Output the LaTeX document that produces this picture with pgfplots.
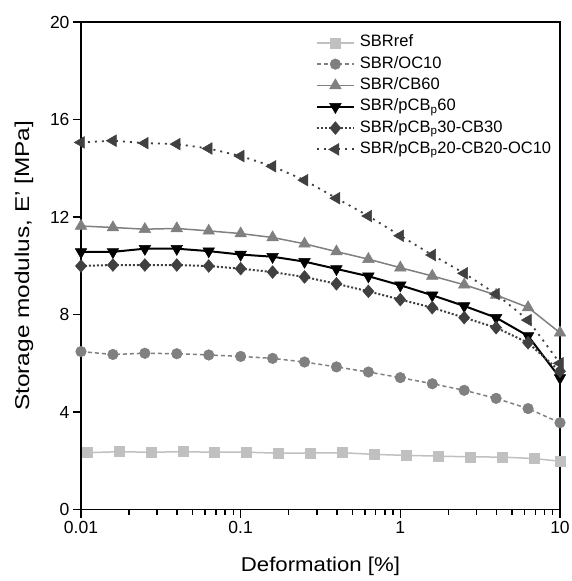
\documentclass[border=0pt]{standalone}
\usepackage{fontspec}
\setmainfont{Liberation Sans}
\usepackage{graphicx}
\usepackage{pgfplots}
\pgfplotsset{compat=1.18}
\definecolor{lg}{HTML}{C0C0C0}
\definecolor{mg}{HTML}{808080}
\definecolor{dg}{HTML}{404040}
\begin{document}
\begin{tikzpicture}
\path[use as bounding box] (-81pt,-71.5pt) rectangle (490pt,509.5pt);
\begin{axis}[
  at={(0pt,0pt)}, anchor=south west,
  scale only axis, width=479pt, height=487.5pt,
  xmode=log, xmin=0.01, xmax=10, ymin=0, ymax=20,
  xtick={0.01,0.1,1,10}, xticklabels={0.01,0.1,1,10},
  minor xtick={0.02,0.03,0.04,0.05,0.06,0.07,0.08,0.09,0.2,0.3,0.4,0.5,0.6,0.7,0.8,0.9,2,3,4,5,6,7,8,9},
  ytick={0,4,8,12,16,20},
  tick align=outside, xtick pos=bottom, ytick pos=left,
  major tick length=8pt, minor tick length=5pt,
  axis line style={line width=1.5pt},
  every tick/.style={line width=1.5pt, black},
  /pgf/number format/assume math mode=true,
  ticklabel style={font=\fontsize{17.5}{17.5}\selectfont},
  xlabel={\scalebox{1.11}[1]{Deformation [\%]}},
  ylabel={\scalebox{1.22}[1]{Storage modulus, E' [MPa]}},
  label style={font=\fontsize{20}{20}\selectfont},
  xlabel style={at={(axis description cs:0.5,-0.1159)}, anchor=center},
  ylabel style={at={(axis description cs:-0.119,0.5)}, anchor=center},
  legend style={draw=none, fill=none, at={(0.49,0.974)}, anchor=north west,
    font=\fontsize{16.5}{16.5}\selectfont, inner sep=0pt,
    nodes={inner sep=0pt, text height=12pt, text depth=4pt},
    row sep=5.3pt,
    /tikz/every odd column/.append style={column sep=5pt}},
  legend cell align=left,
  legend image code/.code={\draw[mark repeat=2,mark phase=2,#1] plot coordinates {(0pt,0pt) (18.5pt,0pt) (37pt,0pt)};},
]
\addplot[color=lg, line width=1.5pt, mark=square*, mark size=5pt, mark options={solid, line width=0.5pt}] coordinates {
(0.0109,2.33) (0.01728,2.37) (0.02738,2.35) (0.04339,2.37) (0.06878,2.35) (0.109,2.35) (0.1728,2.31) (0.2738,2.32) (0.4339,2.33) (0.6878,2.26) (1.09,2.22) (1.728,2.19) (2.738,2.16) (4.339,2.15) (6.878,2.09) (10,1.98)};
\addlegendentry{SBRref}
\addplot[color=mg, line width=1.5pt, dash pattern=on 4pt off 3pt, mark=*, mark size=5.3pt, mark options={solid, line width=0.5pt}] coordinates {
(0.01,6.48) (0.01585,6.36) (0.02512,6.41) (0.03981,6.39) (0.0631,6.34) (0.1,6.28) (0.1585,6.20) (0.2512,6.05) (0.3981,5.85) (0.631,5.64) (1,5.41) (1.585,5.16) (2.512,4.89) (3.981,4.56) (6.31,4.14) (10,3.56)};
\addlegendentry{SBR/OC10}
\addplot[color=mg, line width=1.5pt, mark=triangle*, mark size=6.7pt, mark options={solid, line width=0.5pt}] coordinates {
(0.01,11.63) (0.01585,11.57) (0.02512,11.50) (0.03981,11.53) (0.0631,11.43) (0.1,11.32) (0.1585,11.16) (0.2512,10.90) (0.3981,10.58) (0.631,10.27) (1,9.92) (1.585,9.58) (2.512,9.22) (3.981,8.80) (6.31,8.29) (10,7.25)};
\addlegendentry{SBR/CB60}
\addplot[color=black, line width=2pt, mark=triangle*, mark size=6.7pt, mark options={solid, line width=0.5pt, rotate=180}] coordinates {
(0.01,10.57) (0.01585,10.57) (0.02512,10.70) (0.03981,10.70) (0.0631,10.60) (0.1,10.46) (0.1585,10.37) (0.2512,10.17) (0.3981,9.87) (0.631,9.57) (1,9.20) (1.585,8.79) (2.512,8.35) (3.981,7.87) (6.31,7.12) (10,5.40)};
\addlegendentry{SBR/pCB\textsubscript{p}60}
\addplot[color=dg, line width=2pt, dash pattern=on 2pt off 2pt, mark=diamond*, mark size=6.4pt, mark options={solid, line width=0.5pt, xscale=1.15}] coordinates {
(0.01,9.99) (0.01585,10.03) (0.02512,10.03) (0.03981,10.03) (0.0631,9.99) (0.1,9.88) (0.1585,9.74) (0.2512,9.54) (0.3981,9.26) (0.631,8.95) (1,8.61) (1.585,8.28) (2.512,7.87) (3.981,7.46) (6.31,6.84) (10,5.67)};
\addlegendentry{SBR/pCB\textsubscript{p}30-CB30}
\addplot[color=dg, line width=1.8pt, dash pattern=on 2pt off 5pt, mark=triangle*, mark size=6.7pt, mark options={solid, line width=0.5pt, rotate=90}] coordinates {
(0.01,15.06) (0.01585,15.13) (0.02512,15.03) (0.03981,14.99) (0.0631,14.81) (0.1,14.50) (0.1585,14.08) (0.2512,13.51) (0.3981,12.77) (0.631,12.04) (1,11.23) (1.585,10.44) (2.512,9.69) (3.981,8.84) (6.31,7.77) (10,6.0)};
\addlegendentry{SBR/pCB\textsubscript{p}20-CB20-OC10}
\end{axis}
\end{tikzpicture}
\end{document}
